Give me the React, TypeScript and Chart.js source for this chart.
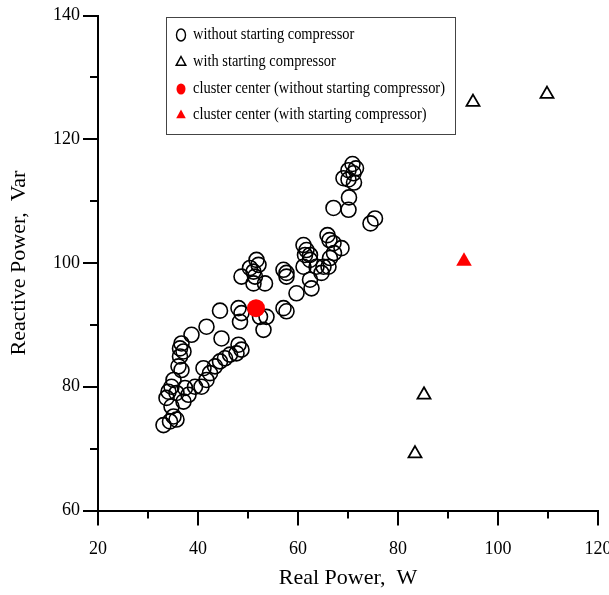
import { useEffect, useRef } from "react";
import { Chart, registerables } from "chart.js";

Chart.register(...registerables);

// Operating points without the starting compressor (real power W, reactive power Var)
const realNoStart = [
  70.9, 71.6, 70.1, 71.1, 69.1, 71.2, 70.1, 70.2, 67.1, 70.1, 75.4, 74.5,
  65.9, 66.3, 67.1, 68.7, 61.1, 61.7, 61.4, 62.4, 67.2, 66.4, 65.1, 66.1,
  63.7, 62.4, 61.1, 64.7, 62.4, 62.7, 59.7, 57.7, 57.1, 57.7, 57.1, 57.7,
  51.7, 52.1, 50.4, 51.1, 48.7, 51.4, 51.1, 53.4,
  44.4, 48.1, 48.7, 48.4, 52.4, 53.7, 53.1,
  41.7, 38.7, 44.7, 36.7, 36.4, 37.1, 36.4, 48.1, 48.7, 47.7, 46.4, 45.4,
  44.4, 43.4, 41.1, 36.7, 36.1, 42.4, 41.7, 40.7, 39.4, 35.1, 34.7, 34.1,
  35.7, 37.4, 38.1, 37.1, 34.7, 33.7, 35.7, 34.4, 33.1, 35.1,
];
const reactiveNoStart = [
  116.0, 115.3, 115.0, 114.5, 113.7, 113.0, 113.5, 110.6, 108.9, 108.6, 107.2, 106.4,
  104.5, 103.7, 103.2, 102.4, 102.9, 102.1, 101.3, 101.3, 101.6, 100.8, 99.4, 99.4,
  99.4, 100.5, 99.4, 98.4, 97.3, 95.9, 95.1, 98.4, 98.9, 97.8, 92.7, 92.2,
  100.5, 99.7, 99.2, 98.6, 97.8, 97.8, 96.7, 96.7,
  92.3, 92.7, 91.9, 90.5, 91.3, 91.3, 89.2,
  89.7, 88.4, 87.8, 87.0, 86.2, 85.7, 84.9, 86.8, 86.0, 85.4, 85.2, 84.6,
  84.1, 83.3, 83.0, 82.7, 83.3, 82.2, 81.1, 80.0, 80.0, 81.1, 80.0, 79.2,
  79.0, 79.8, 78.7, 77.6, 76.8, 78.2, 74.7, 74.4, 73.8, 75.2,
];

// Operating points with the starting compressor
const realWithStart = [95.0, 109.8, 85.2, 83.4];
const reactiveWithStart = [126.0, 127.3, 78.7, 69.2];

// Cluster centres
const centerNoStart = { x: 51.6, y: 92.7 };
const centerWithStart = { x: 93.2, y: 100.3 };

const legendLabels = [
  "without starting compressor",
  "with starting compressor",
  "cluster center (without starting compressor)",
  "cluster center (with starting compressor)",
];

const xMinorTicks = [30, 50, 70, 90, 110];
const yMinorTicks = [70, 90, 110, 130];

const SERIF = '"Liberation Serif", "Times New Roman", serif';

// Short minor tick marks between the labelled ones
const minorTicksPlugin = {
  id: "minorTicks",
  afterDraw(chart: any) {
    const { ctx, chartArea, scales } = chart;
    ctx.save();
    ctx.strokeStyle = "#000";
    ctx.lineWidth = 2;
    for (const v of xMinorTicks) {
      const px = Math.round(scales.x.getPixelForValue(v));
      ctx.beginPath();
      ctx.moveTo(px, chartArea.bottom);
      ctx.lineTo(px, chartArea.bottom + 8);
      ctx.stroke();
    }
    for (const v of yMinorTicks) {
      const py = Math.round(scales.y.getPixelForValue(v));
      ctx.beginPath();
      ctx.moveTo(chartArea.left, py);
      ctx.lineTo(chartArea.left - 8, py);
      ctx.stroke();
    }
    ctx.restore();
  },
};

// Boxed legend inside the plot area
const boxLegendPlugin = {
  id: "boxLegend",
  afterDraw(chart: any) {
    const { ctx, chartArea } = chart;
    const left = chartArea.left + 68;
    const top = chartArea.top + 1.5;
    const w = 289;
    const h = 117;
    ctx.save();
    ctx.fillStyle = "#fff";
    ctx.fillRect(left, top, w, h);
    ctx.strokeStyle = "#444";
    ctx.lineWidth = 1;
    ctx.strokeRect(left + 0.5, top + 0.5, w, h);

    const rows = [top + 18, top + 45, top + 72, top + 98];
    const sx = left + 15;
    const tx = left + 27;
    chart.data.datasets.forEach((ds: any, i: number) => {
      const cy = rows[i];
      ctx.save();
      if (ds.pointStyle === "circle" && ds.pointBackgroundColor === "transparent") {
        ctx.strokeStyle = "#000";
        ctx.lineWidth = 1.4;
        ctx.beginPath();
        ctx.ellipse(sx, cy, 4.5, 6, 0, 0, Math.PI * 2);
        ctx.stroke();
      } else if (ds.pointStyle === "circle") {
        ctx.fillStyle = ds.pointBackgroundColor;
        ctx.beginPath();
        ctx.ellipse(sx, cy, 4.5, 5.5, 0, 0, Math.PI * 2);
        ctx.fill();
      } else {
        const r = 5.5;
        ctx.beginPath();
        ctx.moveTo(sx, cy - r);
        ctx.lineTo(sx + r * 0.87, cy + r * 0.6);
        ctx.lineTo(sx - r * 0.87, cy + r * 0.6);
        ctx.closePath();
        if (ds.pointBackgroundColor === "transparent") {
          ctx.strokeStyle = "#000";
          ctx.lineWidth = 1.5;
          ctx.stroke();
        } else {
          ctx.fillStyle = ds.pointBackgroundColor;
          ctx.fill();
        }
      }
      ctx.restore();

      ctx.save();
      ctx.translate(tx, cy);
      ctx.scale(0.85, 1);
      ctx.fillStyle = "#000";
      ctx.font = `17px ${SERIF}`;
      ctx.textBaseline = "middle";
      ctx.fillText(ds.label, 0, 0);
      ctx.restore();
    });
    ctx.restore();
  },
};

export default function App() {
  const canvasRef = useRef<HTMLCanvasElement | null>(null);

  useEffect(() => {
    const canvas = canvasRef.current;
    if (!canvas) return;

    const noStartPoints = realNoStart.map((x, i) => ({ x, y: reactiveNoStart[i] }));
    const withStartPoints = realWithStart.map((x, i) => ({ x, y: reactiveWithStart[i] }));

    const chart = new Chart(canvas, {
      type: "scatter",
      data: {
        datasets: [
          {
            label: legendLabels[0],
            data: noStartPoints,
            pointStyle: "circle",
            pointRadius: 7.5,
            pointBorderWidth: 1.6,
            pointBorderColor: "#000",
            pointBackgroundColor: "transparent",
            order: 3,
          },
          {
            label: legendLabels[1],
            data: withStartPoints,
            pointStyle: "triangle",
            pointRadius: 7.5,
            pointBorderWidth: 1.8,
            pointBorderColor: "#000",
            pointBackgroundColor: "transparent",
            order: 2,
          },
          {
            label: legendLabels[2],
            data: [centerNoStart],
            pointStyle: "circle",
            pointRadius: 9,
            pointBorderWidth: 0,
            pointBorderColor: "#ff0000",
            pointBackgroundColor: "#ff0000",
            order: 1,
          },
          {
            label: legendLabels[3],
            data: [centerWithStart],
            pointStyle: "triangle",
            pointRadius: 9,
            pointBorderWidth: 0,
            pointBorderColor: "#ff0000",
            pointBackgroundColor: "#ff0000",
            order: 0,
          },
        ],
      } as any,
      options: {
        responsive: false,
        animation: false,
        layout: { padding: { left: 0, right: 11, top: 15.5, bottom: 0 } },
        plugins: {
          legend: { display: false },
          tooltip: { enabled: false },
        },
        scales: {
          x: {
            type: "linear",
            min: 20,
            max: 120,
            afterFit: (s: any) => {
              s.height = 84.5;
              s.paddingLeft = 0;
              s.paddingRight = 0;
            },
            ticks: {
              stepSize: 20,
              color: "#000",
              padding: 13,
              autoSkip: false,
              maxRotation: 0,
              font: { family: SERIF, size: 18 },
            },
            grid: {
              drawOnChartArea: false,
              drawTicks: true,
              tickLength: 15,
              color: "#000",
              lineWidth: 2,
            },
            border: { display: true, color: "#000", width: 2 },
            title: {
              display: true,
              text: "Real Power,  W",
              color: "#000",
              font: { family: SERIF, size: 22 },
              padding: { top: 0, bottom: 4 },
            },
          },
          y: {
            type: "linear",
            min: 60,
            max: 140,
            afterFit: (s: any) => {
              s.width = 98;
            },
            ticks: {
              stepSize: 20,
              color: "#000",
              padding: 3,
              autoSkip: false,
              font: { family: SERIF, size: 18 },
            },
            grid: {
              drawOnChartArea: false,
              drawTicks: true,
              tickLength: 15,
              color: "#000",
              lineWidth: 2,
            },
            border: { display: true, color: "#000", width: 2 },
            title: {
              display: true,
              text: "Reactive Power,  Var",
              color: "#000",
              font: { family: SERIF, size: 22 },
              padding: { top: 6, bottom: 0 },
            },
          },
        },
      } as any,
      plugins: [minorTicksPlugin, boxLegendPlugin],
    });

    return () => chart.destroy();
  }, []);

  return (
    <div style={{ position: "absolute", left: 0, top: 0, width: 609, height: 595, background: "#fff" }}>
      <canvas ref={canvasRef} width={609} height={595} style={{ display: "block" }} />
    </div>
  );
}
